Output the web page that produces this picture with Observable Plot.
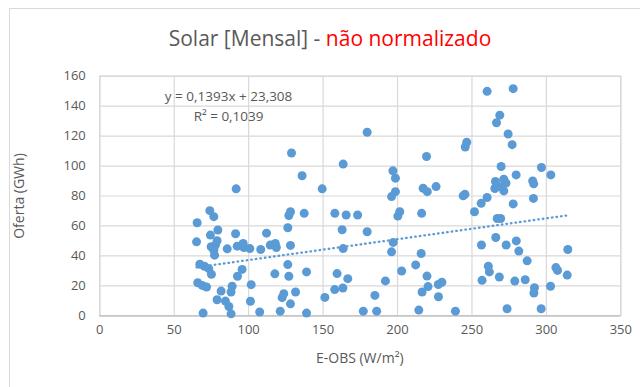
<!DOCTYPE html>
<html><head><meta charset="utf-8">
<script src="https://cdn.jsdelivr.net/npm/d3@7"></script>
<script src="https://cdn.jsdelivr.net/npm/@observablehq/plot@0.6"></script>
<style>
body{margin:0;background:#fff;}
#wrap{position:relative;width:640px;height:387px;overflow:hidden;font-family:"Open Sans",sans-serif;background:#fff;}
#border{position:absolute;left:9px;top:8px;width:700px;height:500px;border:1px solid #d9d9d9;box-sizing:border-box;pointer-events:none;}
#title{height:60px;position:relative;}
#title div{position:absolute;left:0;width:660px;top:26px;text-align:center;font-size:21px;line-height:25px;color:#595959;white-space:nowrap;}
#title .red{color:#ff0000;}
#ytitle{position:absolute;left:18px;top:195.5px;transform:translate(-50%,-50%) rotate(-90deg);font-size:14px;color:#595959;white-space:nowrap;}
#xtitle{position:absolute;left:359.8px;top:357px;transform:translate(-50%,-50%);font-size:14px;color:#595959;white-space:nowrap;}
#chart svg{display:block;}
</style></head>
<body>
<div id="wrap">
  <div id="border"></div>
  <div id="title"><div>Solar [Mensal] - <span class="red">não normalizado</span></div></div>
  <div id="chart"></div>
  <div id="ytitle">Oferta (GWh)</div>
  <div id="xtitle">E-OBS (W/m²)</div>
</div>
<script>
// E-OBS radiation (W/m²)
const eobs = [
  65.4,65.0,67.2,70.3,73.2,75.0,65.8,68.8,71.7,69.4,
  73.9,76.6,74.3,79.3,78.8,74.8,77.7,76.6,77.1,85.6,
  91.2,92.3,81.5,78.8,84.4,86.7,88.2,88.9,88.2,95.6,
  92.5,91.6,96.3,96.8,100.8,101.7,101.2,107.4,108.1,112.0,
  114.5,117.9,118.6,117.6,126.3,127.0,128.1,128.8,128.1,126.3,
  127.0,131.5,123.6,122.5,128.1,121.2,138.9,138.9,137.3,135.9,
  149.4,151.2,157.9,157.8,159.4,163.3,166.6,162.8,163.5,165.5,
  173.2,163.5,179.6,179.6,184.8,177.0,186.0,191.9,196.9,198.6,
  198.6,196.0,201.5,200.2,197.1,196.0,202.8,212.2,215.9,216.2,
  217.2,220.0,225.9,219.5,219.8,220.5,216.5,227.4,229.8,227.5,
  214.3,238.9,244.1,245.3,245.5,246.5,251.7,256.2,260.2,260.2,
  277.7,268.7,266.5,274.3,277.0,269.6,296.7,303.0,279.7,265.8,
  271.4,272.9,268.0,265.4,271.4,290.8,291.5,277.7,291.3,267.0,
  269.3,256.4,266.0,273.0,279.8,281.5,287.1,314.4,261.0,261.7,
  306.4,307.5,314.0,256.8,268.4,278.8,285.8,292.0,291.6,302.8,
  273.6,296.5
];
// Oferta (GWh)
const oferta = [
  62.1,49.4,34.4,33.1,31.5,27.7,22.1,20.3,19.2,1.8,
  70.2,66.2,53.9,57.3,50.1,46.1,47.2,43.8,40.5,44.7,
  54.8,46.5,16.5,10.7,9.8,6.2,1.3,19.7,15.9,31.0,
  26.4,84.8,48.3,45.6,44.9,20.8,9.7,2.5,44.3,55.2,
  47.2,48.3,45.6,28.0,58.8,67.0,69.5,108.7,47.0,34.2,
  26.4,15.9,14.8,12.1,8.0,3.1,1.8,29.3,68.4,93.5,
  84.8,12.3,68.4,17.5,28.2,18.6,24.8,57.5,44.9,67.3,
  67.3,101.3,122.6,56.1,13.6,3.1,3.1,23.3,96.8,91.9,
  82.9,79.6,69.5,66.6,49.0,42.7,29.9,34.0,41.6,68.4,
  85.2,82.9,86.3,106.4,26.5,19.5,15.9,20.9,22.4,12.7,
  3.8,3.1,80.1,81.1,112.7,115.9,69.5,75.1,79.0,149.9,
  151.7,134.0,128.9,121.4,114.3,99.7,99.0,94.1,94.1,89.7,
  91.2,88.6,86.3,85.0,83.4,90.1,88.1,74.7,78.4,65.0,
  65.0,47.3,52.3,47.3,50.0,43.2,36.7,44.3,33.1,29.3,
  32.2,30.3,27.2,23.7,25.9,23.2,24.1,18.8,15.2,19.7,
  4.7,4.7
];
const xTicks = [0,50,100,150,200,250,300,350];
const yTicks = [0,20,40,60,80,100,120,140,160];
const trendCoef = [0.1393, 23.308]; // slope, intercept (Excel linear trendline)
const rSquared = [0.1039];

if (eobs.length !== oferta.length) throw new Error("length mismatch " + eobs.length + " vs " + oferta.length);

const points = eobs.map((x, i) => ({x, y: oferta[i]}));
const xMin = d3.min(eobs), xMax = d3.max(eobs);
const trend = [xMin, xMax].map(x => ({x, y: trendCoef[0] * x + trendCoef[1]}));
const fmt = v => String(v).replace(".", ",");
const labels = [
  {x: 86.5, y: 146.5, t: `y = ${fmt(trendCoef[0])}x + ${fmt(trendCoef[1])}`},
  {x: 86.5, y: 133.1, t: `R² = ${fmt(rSquared[0])}`}
];

const grey = "#595959", blue = "#5B9BD5", gridC = "#d9d9d9";
const chart = Plot.plot({
  width: 640, height: 327,
  marginTop: 15.7, marginBottom: 71.7, marginLeft: 99.3, marginRight: 19.7,
  x: {domain: [0, 350]},
  y: {domain: [0, 160]},
  style: {fontFamily: "Open Sans", fontSize: "13px", color: grey, background: "transparent"},
  marks: [
    Plot.gridX(xTicks, {stroke: gridC, strokeOpacity: 1, strokeWidth: 1.2}),
    Plot.gridY(yTicks, {stroke: gridC, strokeOpacity: 1, strokeWidth: 1.2}),
    Plot.frame({stroke: gridC, strokeWidth: 1.2}),
    Plot.ruleY([0], {stroke: "#bfbfbf", strokeWidth: 1.2}),
    Plot.axisX(xTicks, {tickSize: 0, tickPadding: 9, label: null, fill: grey}),
    Plot.axisY(yTicks, {tickSize: 0, tickPadding: 14, label: null, fill: grey}),
    Plot.dot(points, {x: "x", y: "y", r: 4.5, fill: blue, stroke: "none"}),
    Plot.line(trend, {x: "x", y: "y", stroke: blue, strokeWidth: 2.3, strokeDasharray: "0.6 4", strokeLinecap: "round"}),
    Plot.text(labels, {x: "x", y: "y", text: "t", fill: grey, fontSize: 13.5})
  ]
});
document.getElementById("chart").appendChild(chart);
</script>
</body></html>
